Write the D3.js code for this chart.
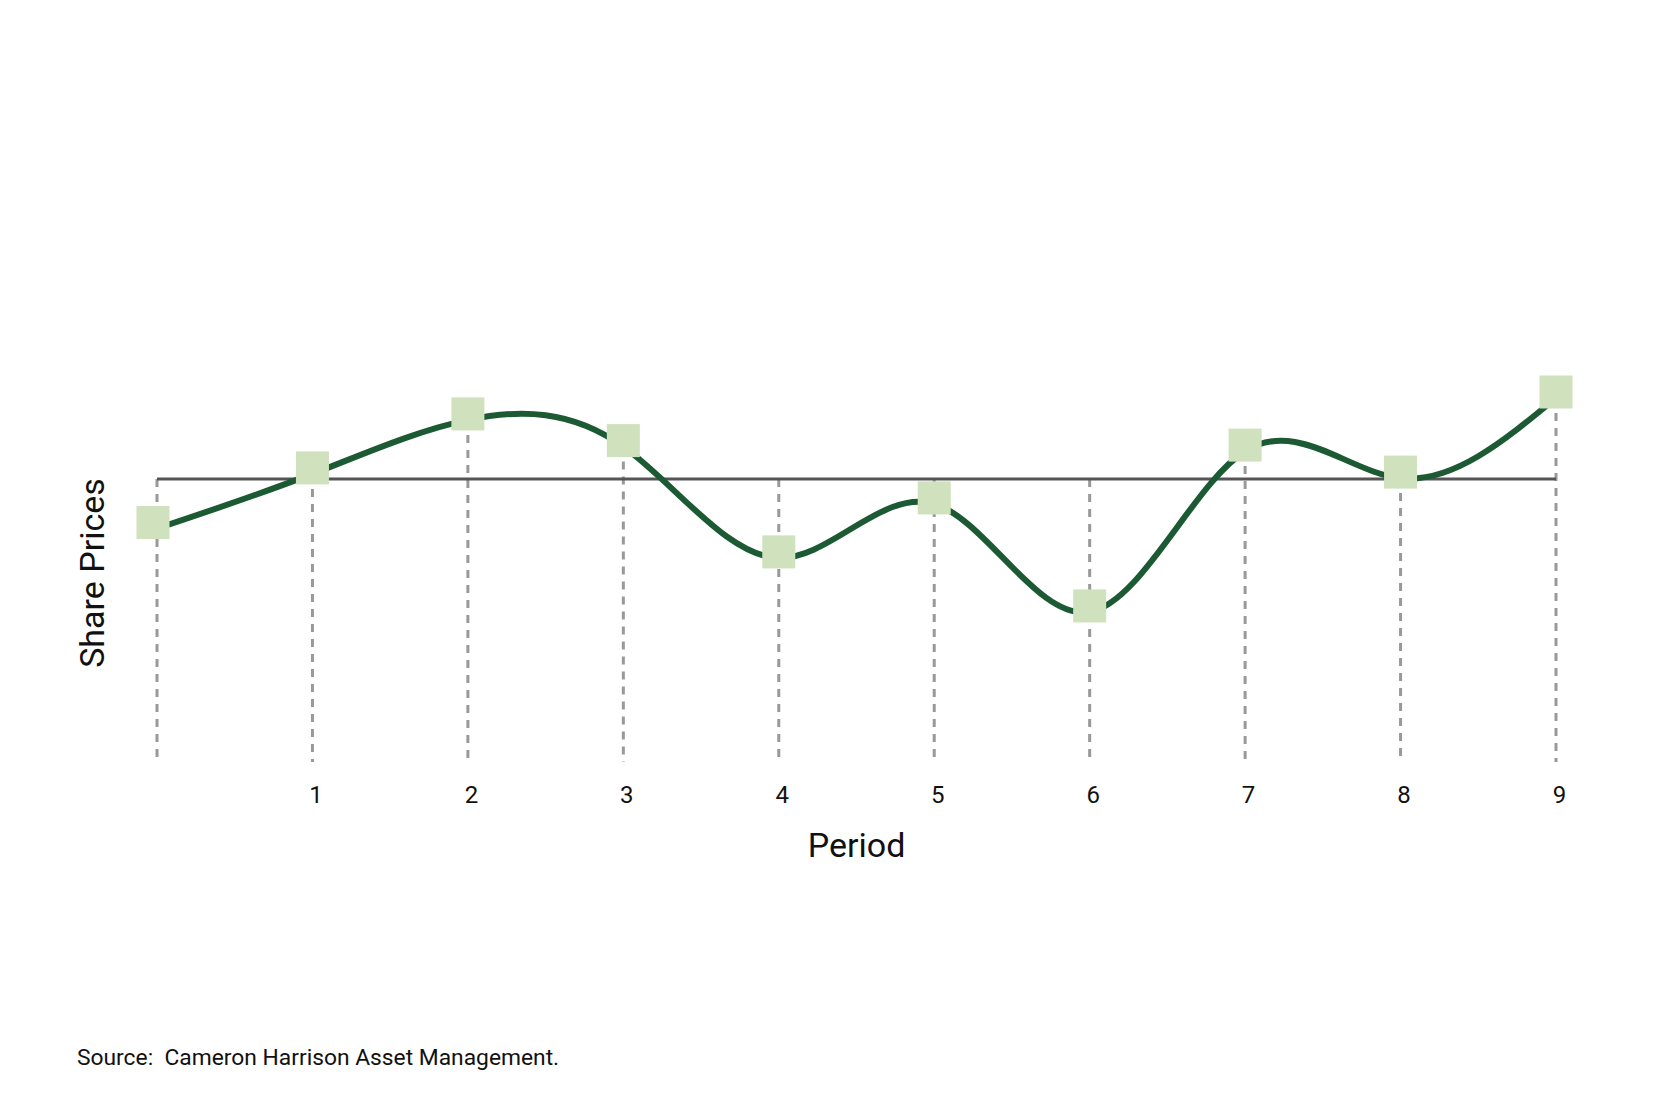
<!DOCTYPE html>
<html>
<head>
<meta charset="utf-8">
<script src="https://cdn.jsdelivr.net/npm/d3@7"></script>
<style>
  html, body { margin: 0; padding: 0; background: #fff; }
  svg { display: block; font-family: Roboto, "Liberation Sans", sans-serif; }
</style>
</head>
<body>
<div id="chart"></div>
<script>
// data
const periods     = [0, 1, 2, 3, 4, 5, 6, 7, 8, 9];
const tickLabels  = ['', '1', '2', '3', '4', '5', '6', '7', '8', '9'];
const sharePrices = [83.5, 101.7, 119.7, 110.8, 73.7, 91.7, 55.7, 109.3, 100.3, 127];
const baseline    = 100;

// colours
const COLOR_LINE   = '#1c5a34';
const COLOR_MARKER = '#d0e1bd';
const COLOR_BASE   = '#555555';
const COLOR_DROP   = '#999999';

const width  = 1680;
const height = 1120;
const margin = { top: 179, right: 124, bottom: 341, left: 157 };

const svg = d3.select('#chart').append('svg')
    .attr('width', width)
    .attr('height', height);

const x = d3.scaleLinear()
    .domain([0, 9])
    .range([margin.left, width - margin.right]);
const y = d3.scaleLinear()
    .domain([0, 200])
    .range([height - margin.bottom, margin.top]);

const plotBottom = 762;

// dashed drop lines
svg.append('g')
    .selectAll('line')
    .data(periods)
    .join('line')
    .attr('x1', d => x(d)).attr('x2', d => x(d))
    .attr('y1', (d, i) => Math.min(y(sharePrices[i]), y(baseline)))
    .attr('y2', plotBottom)
    .attr('stroke', COLOR_DROP)
    .attr('stroke-width', 3)
    .attr('stroke-dasharray', '8 7');

// reference line
svg.append('line')
    .attr('x1', x(0)).attr('x2', x(9))
    .attr('y1', y(baseline)).attr('y2', y(baseline))
    .attr('stroke', COLOR_BASE)
    .attr('stroke-width', 3.2);

// smooth price line
svg.append('path')
    .datum(periods)
    .attr('fill', 'none')
    .attr('stroke', COLOR_LINE)
    .attr('stroke-width', 6)
    .attr('d', d3.line()
        .x(d => x(d))
        .y((d, i) => y(sharePrices[i]))
        .curve(d3.curveNatural)
    );

// square markers (sit a little above the line, as in the original)
const MS = 33;
svg.append('g')
    .selectAll('rect')
    .data(periods)
    .join('rect')
    .attr('x', d => x(d) - MS / 2 - (d === 0 ? 4 : 0))
    .attr('y', (d, i) => y(sharePrices[i]) - MS / 2 - 6)
    .attr('width', MS).attr('height', MS)
    .attr('fill', COLOR_MARKER);

// x axis labels
const xAxis = svg.append('g')
    .attr('transform', `translate(3,${plotBottom})`)
    .call(d3.axisBottom(x).tickValues(periods).tickSize(0).tickPadding(0)
        .tickFormat((d, i) => tickLabels[i]));
xAxis.select('.domain').remove();
xAxis.selectAll('text')
    .attr('dy', null)
    .attr('y', 41)
    .attr('fill', '#111')
    .style('font-size', '24px')
    .style('font-family', 'Roboto, "Liberation Sans", sans-serif');

// axis titles
svg.append('text')
    .attr('x', (x(0) + x(9)) / 2).attr('y', 857)
    .attr('text-anchor', 'middle')
    .attr('fill', '#111')
    .style('font-size', '34px')
    .text('Period');

svg.append('text')
    .attr('transform', 'translate(104,573) rotate(-90)')
    .attr('text-anchor', 'middle')
    .attr('fill', '#111')
    .style('font-size', '34px')
    .text('Share Prices');

// source note
svg.append('text')
    .attr('x', 77).attr('y', 1065)
    .attr('fill', '#111')
    .style('font-size', '22.8px')
    .style('white-space', 'pre')
    .text('Source:  Cameron Harrison Asset Management.');
</script>
</body>
</html>
